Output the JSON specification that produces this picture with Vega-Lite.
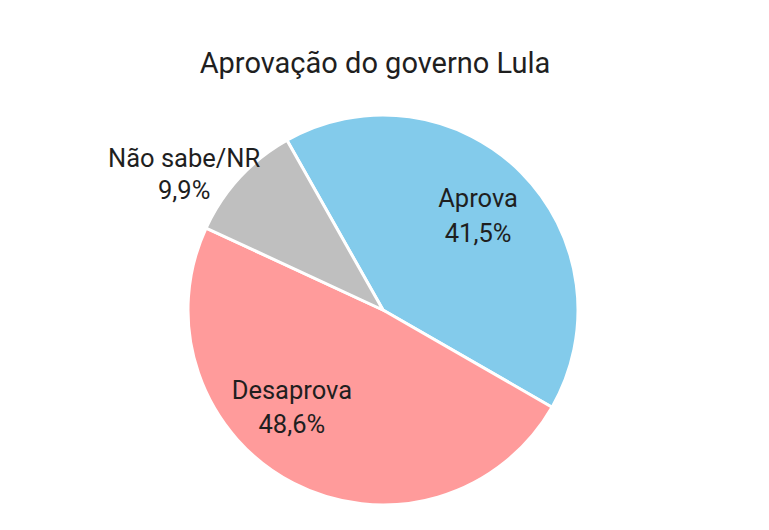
{
  "$schema": "https://vega.github.io/schema/vega-lite/v6.json",
  "autosize": "none",
  "width": 766,
  "height": 440,
  "padding": {"top": 90, "left": 0, "right": 3, "bottom": 0},
  "background": "white",
  "title": {
    "text": "Aprovação do governo Lula",
    "font": "Roboto",
    "fontSize": 29,
    "fontWeight": "normal",
    "color": "#1f1f1f",
    "anchor": "middle",
    "frame": "group",
    "baseline": "alphabetic",
    "offset": 14,
    "dx": -8,
    "dy": 26
  },
  "data": {
    "values": [
      {"categoria": "Aprova", "valor": 41.5, "rotulo": "Aprova\n41,5%"},
      {"categoria": "Desaprova", "valor": 48.6, "rotulo": "Desaprova\n48,6%"},
      {"categoria": "Não sabe/NR", "valor": 9.9, "rotulo": "Não sabe/NR\n9,9%"}
    ]
  },
  "encoding": {
    "theta": {
      "field": "valor",
      "type": "quantitative",
      "stack": true,
      "scale": {"range": [-0.5149, 5.7683]}
    },
    "color": {
      "field": "categoria",
      "type": "nominal",
      "scale": {
        "domain": ["Aprova", "Desaprova", "Não sabe/NR"],
        "range": ["#83CBEB", "#FF9B9B", "#BFBFBF"]
      },
      "legend": null
    }
  },
  "layer": [
    {
      "mark": {"type": "arc", "outerRadius": 195, "stroke": "white", "strokeWidth": 3}
    },
    {
      "mark": {"type": "text", "radius": 134, "dy": -17, "font": "Roboto", "fontSize": 25.5, "lineBreak": "\n", "lineHeight": 35, "align": "center", "baseline": "middle"},
      "encoding": {
        "text": {"condition": {"test": "datum.categoria === 'Aprova'", "field": "rotulo", "type": "nominal"}, "value": ""},
        "color": {"value": "#1f1f1f"}
      }
    },
    {
      "mark": {"type": "text", "radius": 133, "dx": -30, "dy": -37, "font": "Roboto", "fontSize": 25.5, "lineBreak": "\n", "lineHeight": 34, "align": "center", "baseline": "middle"},
      "encoding": {
        "text": {"condition": {"test": "datum.categoria === 'Desaprova'", "field": "rotulo", "type": "nominal"}, "value": ""},
        "color": {"value": "#1f1f1f"}
      }
    },
    {
      "mark": {"type": "text", "radius": 261, "dx": -7, "dy": 26, "font": "Roboto", "fontSize": 25.5, "lineBreak": "\n", "lineHeight": 32, "align": "center", "baseline": "middle"},
      "encoding": {
        "text": {"condition": {"test": "datum.categoria === 'Não sabe/NR'", "field": "rotulo", "type": "nominal"}, "value": ""},
        "color": {"value": "#1f1f1f"}
      }
    }
  ]
}
